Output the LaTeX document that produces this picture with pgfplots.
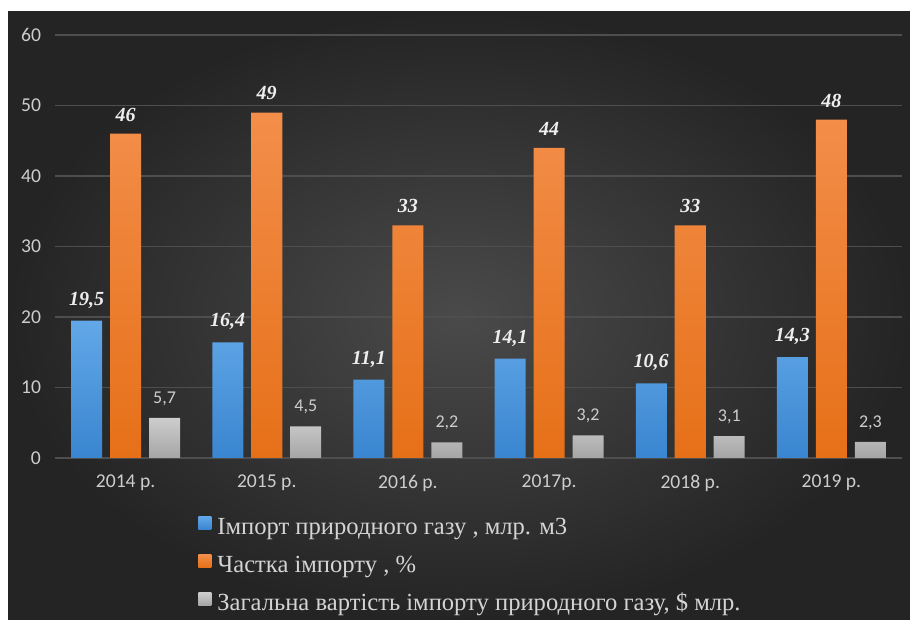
\documentclass[border=0pt]{standalone}
\usepackage{pgfplots}
\pgfplotsset{compat=1.18}
\usepackage{fontspec}
\setmainfont{Liberation Serif}
\newfontfamily\calfont{Carlito}
\definecolor{bgin}{RGB}{74,74,74}
\definecolor{bgout}{RGB}{36,36,36}
\definecolor{gridc}{RGB}{78,78,78}
\definecolor{basec}{RGB}{160,160,160}
\definecolor{ticktext}{RGB}{205,205,205}
\definecolor{legtext}{RGB}{212,212,212}
\definecolor{lbltext}{RGB}{238,238,238}
\definecolor{bluet}{RGB}{98,168,232}
\definecolor{blueb}{RGB}{58,133,208}
\definecolor{oranget}{RGB}{243,142,74}
\definecolor{orangeb}{RGB}{230,112,24}
\definecolor{grayt}{RGB}{205,205,205}
\definecolor{grayb}{RGB}{165,165,165}
\begin{document}
\begin{tikzpicture}
\fill[white] (0,0) rectangle (455pt,310pt);
\shade[inner color=bgin, outer color=bgout] (4pt,0) rectangle (455pt,304pt);
\begin{axis}[
  at={(27.5pt,81pt)}, anchor=south west,
  scale only axis, width=423.5pt, height=211.5pt,
  xmin=-0.5, xmax=5.5, ymin=0, ymax=60,
  ytick={0,10,...,60},
  xtick={0,...,5},
  xticklabels={2014 р., 2015 р., 2016 р., 2017р., 2018 р., 2019 р.},
  axis line style={draw=none},
  tick style={draw=none},
  ymajorgrids,
  major grid style={draw=gridc, line width=0.7pt},
  extra y ticks={0},
  extra y tick labels={},
  extra y tick style={grid style={draw=basec, line width=0.9pt}},
  /pgf/number format/.cd, use comma, fixed, precision=1, assume math mode=true,
  /pgfplots/.cd,
  ticklabel style={font=\calfont\fontsize{9.8}{11}\selectfont, text=ticktext},
  yticklabel style={xshift=-3.5pt},
  xticklabel style={yshift=-5pt},
  clip=false,
  legend style={at={(0.1688,-0.130)}, anchor=north west, draw=none, fill=none,
    inner sep=0pt, row sep=5pt, column sep=2pt,
    font=\fontsize{12.3}{14}\selectfont, text=legtext,
    nodes={inner sep=1pt, text height=9.5pt, text depth=2.5pt, text=legtext}},
  legend cell align=left,
]
\addplot[ybar, bar width=0.22, bar shift=-0.276, draw=none,
  top color=bluet, bottom color=blueb,
  nodes near coords, point meta=y,
  every node near coord/.append style={font=\fontsize{10}{12}\selectfont\bfseries\itshape, text=lbltext, anchor=south, inner sep=0pt, yshift=6pt, xshift=-19.5pt},
  legend image code/.code={\fill[top color=bluet, bottom color=blueb] (0pt,-1pt) rectangle (6.5pt,5.5pt);}]
  coordinates {(0,19.5) (1,16.4) (2,11.1) (3,14.1) (4,10.6) (5,14.3)};
\addlegendentry{Імпорт природного газу , млр. м3}
\addplot[ybar, bar width=0.22, bar shift=0, draw=none,
  top color=oranget, bottom color=orangeb,
  nodes near coords, point meta=y,
  every node near coord/.append style={font=\fontsize{10}{12}\selectfont\bfseries\itshape, text=lbltext, anchor=south, inner sep=0pt, yshift=6pt},
  legend image code/.code={\fill[top color=oranget, bottom color=orangeb] (0pt,-1pt) rectangle (6.5pt,5.5pt);}]
  coordinates {(0,46) (1,49) (2,33) (3,44) (4,33) (5,48)};
\addlegendentry{Частка імпорту , \%}
\addplot[ybar, bar width=0.22, bar shift=0.276, draw=none,
  top color=grayt, bottom color=grayb,
  nodes near coords, point meta=y,
  every node near coord/.append style={font=\calfont\fontsize{9}{11}\selectfont, text=ticktext, anchor=south, inner sep=0pt, yshift=6pt, xshift=19.5pt},
  legend image code/.code={\fill[top color=grayt, bottom color=grayb] (0pt,-1pt) rectangle (6.5pt,5.5pt);}]
  coordinates {(0,5.7) (1,4.5) (2,2.2) (3,3.2) (4,3.1) (5,2.3)};
\addlegendentry{Загальна вартість імпорту природного газу, \$ млр.}
\end{axis}
\pgfresetboundingbox
\path (0,0) rectangle (455pt,310pt);
\end{tikzpicture}
\end{document}
